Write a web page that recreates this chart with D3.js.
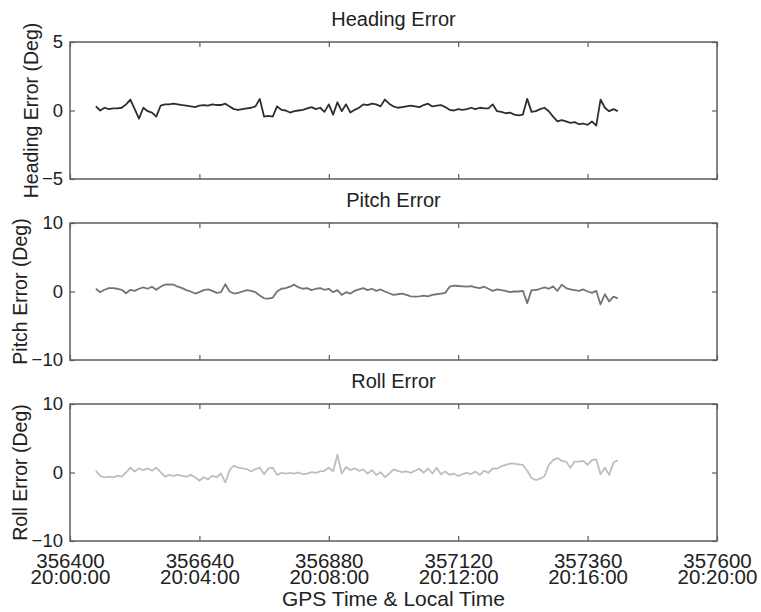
<!DOCTYPE html>
<html>
<head>
<meta charset="utf-8">
<script src="https://cdn.jsdelivr.net/npm/d3@7"></script>
<style>
  body { margin: 0; background: #fff; }
  text { font-family: "Liberation Sans", Arial, sans-serif; fill: #222; }
</style>
</head>
<body>
<div id="chart"></div>
<script>
// GPS seconds of week, one sample every 8 s
var gpsTime = [
  356448, 356456, 356464, 356472, 356480, 356488, 356496, 356504, 356512, 356520,
  356528, 356536, 356544, 356552, 356560, 356568, 356576, 356584, 356592, 356600,
  356608, 356616, 356624, 356632, 356640, 356648, 356656, 356664, 356672, 356680,
  356688, 356696, 356704, 356712, 356720, 356728, 356736, 356744, 356752, 356760,
  356768, 356776, 356784, 356792, 356800, 356808, 356816, 356824, 356832, 356840,
  356848, 356856, 356864, 356872, 356880, 356888, 356896, 356904, 356912, 356920,
  356928, 356936, 356944, 356952, 356960, 356968, 356976, 356984, 356992, 357000,
  357008, 357016, 357024, 357032, 357040, 357048, 357056, 357064, 357072, 357080,
  357088, 357096, 357104, 357112, 357120, 357128, 357136, 357144, 357152, 357160,
  357168, 357176, 357184, 357192, 357200, 357208, 357216, 357224, 357232, 357240,
  357248, 357256, 357264, 357272, 357280, 357288, 357296, 357304, 357312, 357320,
  357328, 357336, 357344, 357352, 357360, 357368, 357376, 357384, 357392, 357400,
  357408, 357416
];

var headingError = [
  0.3, 0.0, 0.2, 0.1, 0.15, 0.15, 0.2, 0.45, 0.8, 0.1,
  -0.6, 0.2, -0.05, -0.15, -0.45, 0.35, 0.45, 0.45, 0.5, 0.45,
  0.4, 0.35, 0.3, 0.25, 0.35, 0.4, 0.35, 0.45, 0.4, 0.4,
  0.5, 0.3, 0.1, 0.05, 0.1, 0.15, 0.2, 0.3, 0.85, -0.45,
  -0.4, -0.45, 0.3, 0.05, 0.0, -0.15, -0.05, 0.0, 0.05, 0.15,
  0.25, 0.1, 0.2, -0.1, 0.45, -0.3, 0.6, -0.05, 0.45, -0.15,
  0.05, 0.2, 0.45, 0.4, 0.5, 0.45, 0.3, 0.8, 0.5, 0.3,
  0.2, 0.25, 0.3, 0.35, 0.3, 0.25, 0.4, 0.5, 0.3, 0.35,
  0.4, 0.25, 0.05, 0.0, 0.1, 0.05, 0.1, 0.2, 0.1, 0.2,
  0.15, 0.15, 0.45, -0.05, -0.1, -0.2, -0.15, -0.3, -0.35, -0.3,
  0.85, -0.1, -0.05, 0.1, 0.2, -0.05, -0.45, -0.8, -0.7, -0.8,
  -0.9, -0.85, -1.0, -0.95, -1.05, -0.8, -1.1, 0.8, 0.2, -0.05,
  0.1, -0.05
];

var pitchError = [
  0.4, -0.1, 0.25, 0.5, 0.5, 0.4, 0.25, -0.25, 0.25, 0.1,
  0.4, 0.6, 0.4, 0.7, 0.25, 0.7, 1.0, 1.05, 1.0, 0.7,
  0.5, 0.2, 0.0, -0.3, -0.1, 0.2, 0.3, 0.1, -0.2, -0.1,
  1.05, 0.0, -0.3, -0.2, 0.0, 0.2, 0.1, -0.1, -0.6, -1.0,
  -1.05, -0.9, 0.0, 0.4, 0.5, 0.7, 1.0, 0.6, 0.4, 0.5,
  0.2, 0.4, 0.5, 0.25, 0.4, -0.1, 0.2, -0.5, -0.1, -0.3,
  0.1, 0.3, 0.5, 0.2, 0.4, 0.1, 0.3, 0.0, -0.25, -0.5,
  -0.4, -0.3, -0.5, -0.7, -0.75, -0.7, -0.6, -0.7, -0.5, -0.4,
  -0.3, -0.2, 0.7, 0.85, 0.8, 0.75, 0.7, 0.8, 0.6, 0.5,
  0.7, 0.4, 0.1, 0.3, 0.2, 0.1, -0.1, 0.0, 0.0, 0.1,
  -1.7, 0.2, 0.2, 0.4, 0.6, 0.4, 0.75, 0.1, 1.0, 0.5,
  0.3, 0.2, 0.1, 0.3, 0.0, -0.2, 0.1, -1.9, -0.4, -1.45,
  -0.75, -1.0
];

var rollError = [
  0.25, -0.5, -0.7, -0.6, -0.7, -0.5, -0.6, 0.0, 0.7, 0.15,
  0.6, 0.35, 0.6, 0.25, 0.7, 0.05, -0.6, -0.35, -0.5, -0.35,
  -0.5, -0.6, -0.35, -0.7, -1.2, -0.7, -1.0, -0.45, -0.7, -0.15,
  -1.45, 0.35, 1.0, 0.7, 0.6, 0.5, 0.15, 0.5, 0.7, -0.25,
  0.6, 0.7, -0.35, -0.05, -0.15, -0.05, -0.15, 0.0, -0.25, -0.15,
  0.05, -0.05, 0.15, 0.25, 0.7, 0.15, 2.6, -0.15, 0.8, 0.35,
  0.6, 0.25, 0.45, -0.15, 0.35, -0.35, 0.05, -0.7, -0.15, 0.45,
  0.25, 0.05, 0.15, -0.05, 0.25, 0.55, -0.05, 0.6, -0.15, 0.7,
  -0.25, 0.15, -0.35, -0.15, -0.5, -0.25, -0.05, -0.25, 0.15, -0.35,
  0.25, -0.05, 0.6, 0.55, 0.9, 1.1, 1.3, 1.3, 1.2, 1.1,
  0.25, -0.8, -1.1, -0.9, -0.55, 1.1, 1.8, 2.1, 1.7, 1.6,
  0.7, 1.6, 1.6, 1.7, 1.1, 1.8, 1.9, -0.25, 0.7, -0.35,
  1.45, 1.8
];

var xTicks = [356400, 356640, 356880, 357120, 357360, 357600];
var localTimes = ["20:00:00", "20:04:00", "20:08:00", "20:12:00", "20:16:00", "20:20:00"];

var panelTitles = ["Heading Error", "Pitch Error", "Roll Error"];
var yLabels = ["Heading Error (Deg)", "Pitch Error (Deg)", "Roll Error (Deg)"];
var yDomains = [[-5, 5], [-10, 10], [-10, 10]];
var yTicks = [[-5, 0, 5], [-10, 0, 10], [-10, 0, 10]];

var series = [headingError, pitchError, rollError];
var lineColors = ["#2e2e2e", "#747474", "#bebebe"];

var width = 761, height = 612,
    left = 70, right = 717,
    tops = [42, 223, 404],
    panelH = 137,
    labelX = [38, 27, 27],   // ylabel sits left of the tick labels, like MATLAB
    boxColor = "#5e5e5e";

var svg = d3.select("#chart")
    .append("svg")
    .attr("width", width)
    .attr("height", height);

var x = d3.scaleLinear()
    .domain([356400, 357600])
    .range([left, right]);

panelTitles.forEach(function(title, p) {
    var top = tops[p], bottom = top + panelH;

    var y = d3.scaleLinear()
        .domain(yDomains[p])
        .range([bottom, top]);

    var g = svg.append("g");

    // inward ticks on all four sides
    var bottomAxis = g.append("g")
        .attr("transform", "translate(0," + bottom + ")")
        .call(d3.axisBottom(x).tickValues(xTicks).tickSize(-5).tickFormat(""));
    g.append("g")
        .attr("transform", "translate(0," + top + ")")
        .call(d3.axisTop(x).tickValues(xTicks).tickSize(-5).tickFormat(""));
    g.append("g")
        .attr("transform", "translate(" + left + ",0)")
        .call(d3.axisLeft(y).tickValues(yTicks[p]).tickSize(-5).tickPadding(7))
        .selectAll("text")
        .style("font-size", "18.5px")
        .style("fill", "#222");
    g.append("g")
        .attr("transform", "translate(" + right + ",0)")
        .call(d3.axisRight(y).tickValues(yTicks[p]).tickSize(-5).tickFormat(""));

    g.selectAll(".domain").remove();
    g.selectAll(".tick line").attr("stroke", boxColor).attr("stroke-width", 1.2);

    var line = d3.line()
        .x(function(d, i) { return x(gpsTime[i]); })
        .y(function(d) { return y(d); });

    g.append("path")
        .datum(series[p])
        .attr("fill", "none")
        .attr("stroke", lineColors[p])
        .attr("stroke-width", 1.8)
        .attr("stroke-linejoin", "round")
        .attr("d", line);

    g.append("rect")
        .attr("x", left)
        .attr("y", top)
        .attr("width", right - left)
        .attr("height", panelH)
        .attr("fill", "none")
        .attr("stroke", boxColor)
        .attr("stroke-width", 1.5);

    g.append("text")
        .attr("x", (left + right) / 2)
        .attr("y", top - 16)
        .attr("text-anchor", "middle")
        .style("font-size", "20px")
        .text(title);

    g.append("text")
        .attr("transform", "translate(" + labelX[p] + "," + (top + panelH / 2) + ") rotate(-90)")
        .attr("text-anchor", "middle")
        .style("font-size", "19.5px")
        .text(yLabels[p]);

    if (p === 2) {
        var lbl = bottomAxis.selectAll(".tick")
            .append("text")
            .attr("text-anchor", "middle")
            .style("font-size", "20.5px")
            .style("fill", "#222");
        lbl.append("tspan")
            .attr("x", 0)
            .attr("y", 27)
            .text(function(d) { return d; });
        lbl.append("tspan")
            .attr("x", 0)
            .attr("y", 43)
            .text(function(d, i) { return localTimes[i]; });
    }
});

svg.append("text")
    .attr("x", (left + right) / 2)
    .attr("y", 606)
    .attr("text-anchor", "middle")
    .style("font-size", "21px")
    .text("GPS Time & Local Time");
</script>
</body>
</html>
